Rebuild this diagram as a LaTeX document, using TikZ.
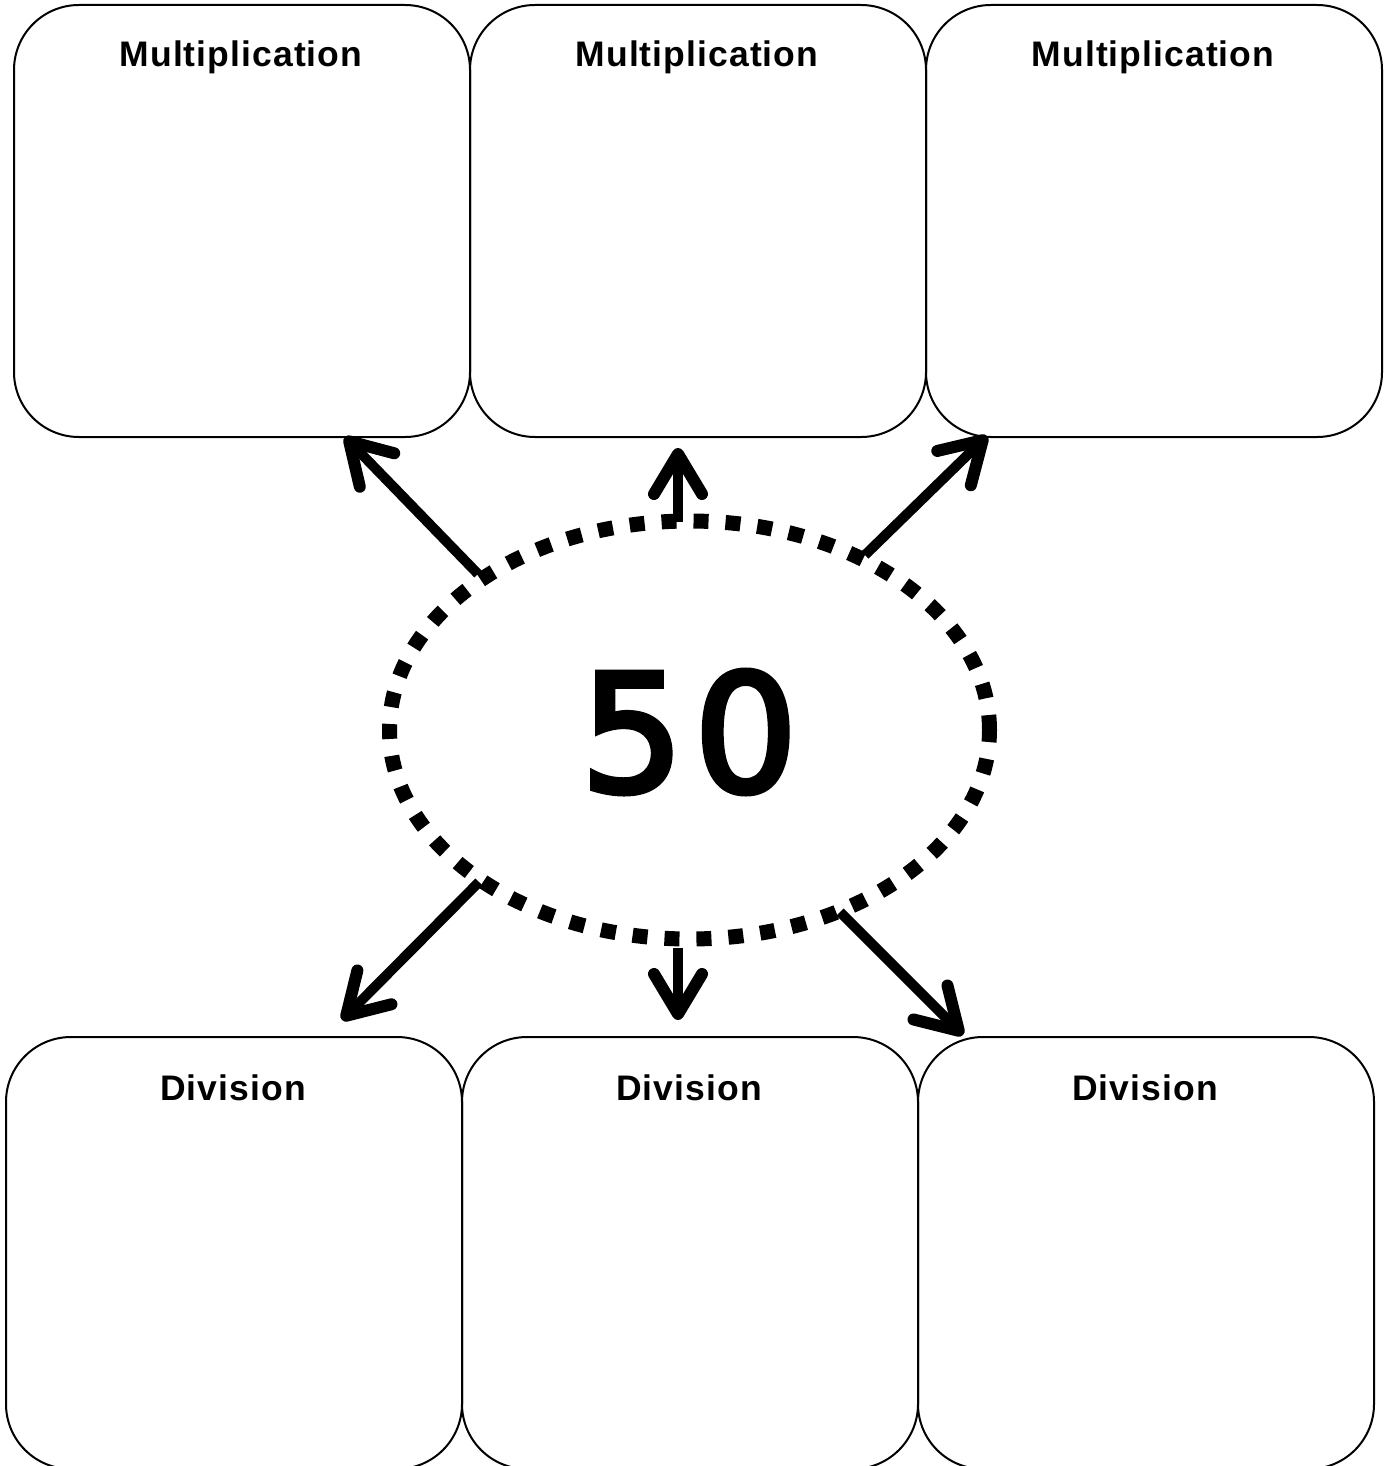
\documentclass[tikz,border=0pt]{standalone}
\usepackage{fontspec}
\usetikzlibrary{arrows.meta,shapes.geometric}
\newfontfamily\titlefont[LetterSpace=3]{Liberation Sans}
\newfontfamily\numfont[FakeBold=3.5]{DejaVu Sans}
\begin{document}
\begin{tikzpicture}[x=1pt,y=-1pt,
  box/.style={draw=black, line width=2pt, rounded corners=65pt, minimum width=456pt, minimum height=432pt, anchor=north west, inner sep=0pt},
  boxtitle/.style={anchor=base, inner sep=0pt, font=\titlefont\bfseries\fontsize{35.5}{42}\selectfont},
  centre/.style={ellipse, draw=black, line width=15pt, dash pattern=on 15pt off 17pt, minimum width=600pt, minimum height=418pt, inner sep=0pt},
  conn/.style={line width=10pt, -{Straight Barb[length=40pt, width=48pt, line width=12pt, round]}}]
\useasboundingbox (0,0) rectangle (1390,1466);
\clip (0,0) rectangle (1390,1466);
% top boxes
\node[box] (m1) at (13,4) {};
\node[box] (m2) at (469,4) {};
\node[box] (m3) at (925,4) {};
\node[boxtitle] (m1t) at (241,67) {Multiplication};
\node[boxtitle] (m2t) at (697,67) {Multiplication};
\node[boxtitle] (m3t) at (1153,67) {Multiplication};
% bottom boxes
\node[box] (d1) at (5,1036) {};
\node[box] (d2) at (461,1036) {};
\node[box] (d3) at (917,1036) {};
\node[boxtitle] (d1t) at (233,1100) {Division};
\node[boxtitle] (d2t) at (689,1100) {Division};
\node[boxtitle] (d3t) at (1145,1100) {Division};
% centre
\node[centre] (c) at (689.5,730) {};
\node[inner sep=0pt, font=\numfont\fontsize{163}{190}\selectfont] (n) at (689,732) {5\kern10pt 0};
% arrow coordinates
\coordinate (s1) at (478,574); \coordinate (t1) at (345,437);
\coordinate (s2) at (678,522); \coordinate (t2) at (678,448);
\coordinate (s3) at (865,555); \coordinate (t3) at (987,436);
\coordinate (s4) at (479,882); \coordinate (t4) at (342,1020);
\coordinate (s5) at (678,948); \coordinate (t5) at (678,1020);
\coordinate (s6) at (840,912); \coordinate (t6) at (963,1035);
\draw[conn] (s1) -- (t1);
\draw[conn] (s2) -- (t2);
\draw[conn] (s3) -- (t3);
\draw[conn] (s4) -- (t4);
\draw[conn] (s5) -- (t5);
\draw[conn] (s6) -- (t6);
\end{tikzpicture}
\end{document}
